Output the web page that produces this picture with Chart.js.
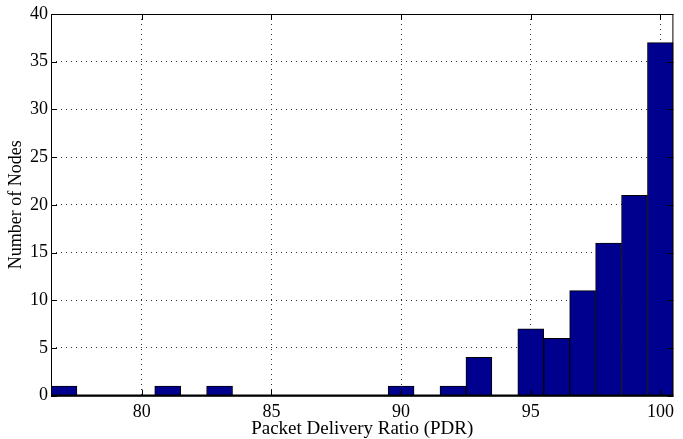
<!DOCTYPE html>
<html>
<head>
<meta charset="utf-8">
<script src="https://cdn.jsdelivr.net/npm/chart.js@4.4.1/dist/chart.umd.min.js"></script>
<style>
  html, body { margin: 0; padding: 0; background: #fff; }
  #wrap { position: relative; width: 683px; height: 439px; }
</style>
</head>
<body>
<div id="wrap"><canvas id="pdrChart"></canvas></div>
<script>
  // histogram bins (centres) and node counts per bin
  const pdrBins = [77, 78, 79, 80, 81, 82, 83, 84, 85, 86, 87, 88, 89, 90, 91, 92, 93, 94, 95, 96, 97, 98, 99, 100];
  const nodeCounts = [1, 0, 0, 0, 1, 0, 1, 0, 0, 0, 0, 0, 0, 1, 0, 1, 4, 0, 7, 6, 11, 16, 21, 37];
  const xTicks = [80, 85, 90, 95, 100];
  const yTicks = [0, 5, 10, 15, 20, 25, 30, 35, 40];
  const xMin = 76.5, xMax = 100.5, yMin = 0, yMax = 40;

  const serif = "'Liberation Serif', 'DejaVu Serif', serif";
  const fnt = { family: serif, size: 18, lineHeight: 1 };

  // box round the plot + inward tick marks (matlab look)
  const boxTicks = {
    id: "boxTicks",
    afterDraw(chart) {
      const { ctx, chartArea: a, scales: { x, y } } = chart;
      ctx.save();
      ctx.strokeStyle = "#000";
      ctx.lineWidth = 1;
      ctx.strokeRect(a.left + 0.5, a.top + 0.5, a.right - a.left - 1, a.bottom - a.top);
      ctx.beginPath();
      xTicks.forEach(v => {
        const px = Math.round(x.getPixelForValue(v)) + 0.5;
        ctx.moveTo(px, a.bottom); ctx.lineTo(px, a.bottom - 6);
        ctx.moveTo(px, a.top); ctx.lineTo(px, a.top + 6);
      });
      yTicks.forEach(v => {
        const py = Math.round(y.getPixelForValue(v)) + 0.5;
        ctx.moveTo(a.left, py); ctx.lineTo(a.left + 6, py);
        ctx.moveTo(a.right, py); ctx.lineTo(a.right - 6, py);
      });
      ctx.stroke();
      ctx.lineWidth = 2;
      ctx.beginPath();
      ctx.moveTo(a.left, a.bottom); ctx.lineTo(a.right, a.bottom);
      ctx.stroke();
      ctx.restore();
    }
  };

  new Chart(document.getElementById("pdrChart"), {
    type: "bar",
    data: {
      datasets: [{
        label: "Nodes",
        data: pdrBins.map((b, i) => ({ x: b, y: nodeCounts[i] })),
        backgroundColor: "#00008f",
        borderColor: "#000",
        borderWidth: 1,
        barPercentage: 1,
        categoryPercentage: 1
      }]
    },
    options: {
      responsive: true,
      maintainAspectRatio: false,
      animation: false,
      layout: { padding: { top: 14, right: 3, left: 7, bottom: 0 } },
      plugins: { legend: { display: false }, tooltip: { enabled: false } },
      scales: {
        x: {
          type: "linear", min: xMin, max: xMax, offset: false,
          afterBuildTicks: s => { s.ticks = xTicks.map(v => ({ value: v })); },
          ticks: { color: "#000", font: { family: serif, size: 18, lineHeight: 0.8 }, padding: 9, maxRotation: 0 },
          grid: { color: "#333", offset: false, drawTicks: false },
          border: { display: false, dash: [1, 4] },
          title: { display: true, text: "Packet Delivery Ratio (PDR)", color: "#000", font: { family: serif, size: 19, lineHeight: 1 }, padding: { top: -8, bottom: 0 } }
        },
        y: {
          min: yMin, max: yMax,
          afterBuildTicks: s => { s.ticks = yTicks.map(v => ({ value: v })); },
          ticks: { color: "#000", font: fnt, padding: 3 },
          grid: { color: "#333", drawTicks: false },
          border: { display: false, dash: [1, 4] },
          title: { display: true, text: "Number of Nodes", color: "#000", font: fnt, padding: { top: 0, bottom: 2 } }
        }
      }
    },
    plugins: [boxTicks]
  });
</script>
</body>
</html>
